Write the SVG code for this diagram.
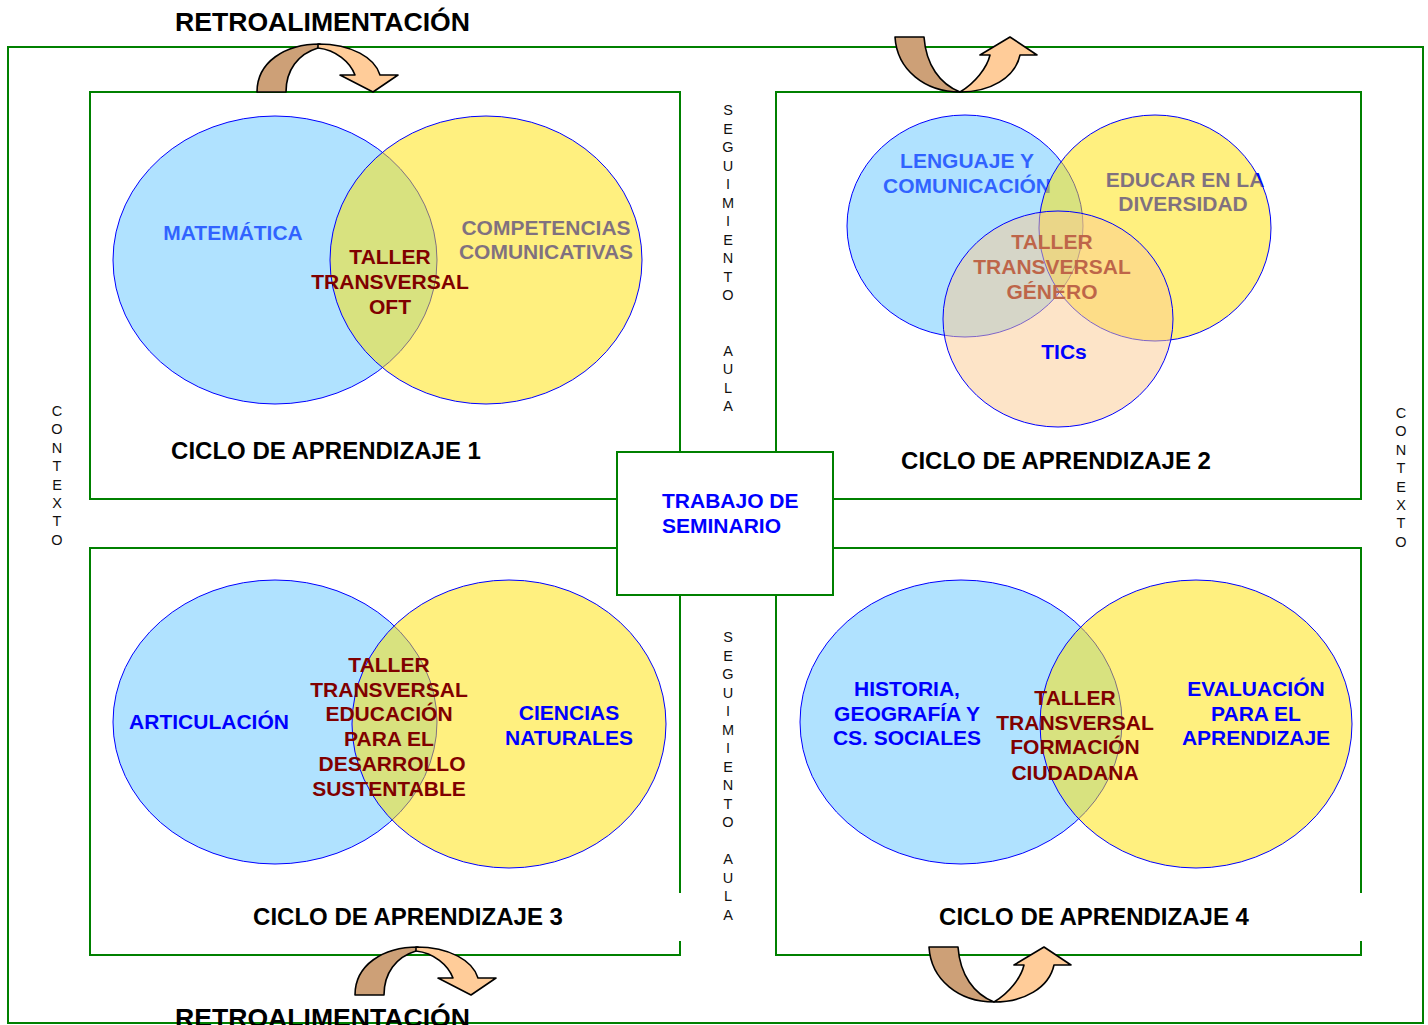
<svg xmlns="http://www.w3.org/2000/svg" width="1428" height="1025" viewBox="0 0 1428 1025">
<style>
.frame{fill:none;stroke:#008000;stroke-width:2}
.cb{fill:#61C5FF;fill-opacity:0.5;stroke:#0000FF;stroke-width:1}
.cy{fill:#FFE100;fill-opacity:0.5;stroke:#0000FF;stroke-width:1}
.cp{fill:#FBC991;fill-opacity:0.5;stroke:#0000FF;stroke-width:1}
text{font-family:"Liberation Sans",Arial,sans-serif}
.lb{font-size:21px;font-weight:bold;fill:#0000FF;text-anchor:middle}
.tl{font-size:21px;font-weight:bold;fill:#800000;text-anchor:middle}
.ciclo{font-size:24px;font-weight:bold;fill:#000;text-anchor:middle}
.retro{font-size:26.6px;font-weight:bold;fill:#000}
.vt{font-size:14.5px;fill:#111;text-anchor:middle}
.brown{fill:#CDA077;stroke:#000;stroke-width:1.6;stroke-linejoin:round}
.peach{fill:#FFCC99;stroke:#000;stroke-width:1.6;stroke-linejoin:round}
</style>
<defs>
<g id="arrowOver">
<path class="brown" d="M257,92 C257,62 285,44 320,44 L318,48 C298,54 286,70 286,92 Z"/>
<path class="peach" d="M318,44 C352,44 375,58 380,75 L398,75 L373,92 L340,75 L355,75 C350,62 336,50 318,48 Z"/>
</g>
<g id="arrowUnder">
<path class="brown" d="M895,37 L924,37 C926,65 940,84 960,92 C925,92 897,70 895,37 Z"/>
<path class="peach" d="M960,92 C990,92 1015,78 1020,55 L1037,55 L1010,37 L980,55 L990,55 C987,68 975,83 960,92 Z"/>
</g>
</defs>
<rect width="1428" height="1025" fill="#fff"/>

<g id="context-frame">
<rect class="frame" x="8" y="47" width="1415" height="976"/>
<text class="vt"><tspan x="57" y="416">C</tspan><tspan x="57" y="434.4">O</tspan><tspan x="57" y="452.8">N</tspan><tspan x="57" y="471.2">T</tspan><tspan x="57" y="489.6">E</tspan><tspan x="57" y="508">X</tspan><tspan x="57" y="526.4">T</tspan><tspan x="57" y="544.8">O</tspan></text>
<text class="vt"><tspan x="1401" y="418">C</tspan><tspan x="1401" y="436.4">O</tspan><tspan x="1401" y="454.8">N</tspan><tspan x="1401" y="473.2">T</tspan><tspan x="1401" y="491.6">E</tspan><tspan x="1401" y="510">X</tspan><tspan x="1401" y="528.4">T</tspan><tspan x="1401" y="546.8">O</tspan></text>
<text class="retro" x="175" y="31">RETROALIMENTACIÓN</text>
<text class="retro" x="175" y="1027">RETROALIMENTACIÓN</text>
</g>

<g id="seguimiento-aula">
<text class="vt"><tspan x="728" y="115">S</tspan><tspan x="728" y="133.5">E</tspan><tspan x="728" y="152">G</tspan><tspan x="728" y="170.5">U</tspan><tspan x="728" y="189">I</tspan><tspan x="728" y="207.5">M</tspan><tspan x="728" y="226">I</tspan><tspan x="728" y="244.5">E</tspan><tspan x="728" y="263">N</tspan><tspan x="728" y="281.5">T</tspan><tspan x="728" y="300">O</tspan><tspan x="728" y="355.5">A</tspan><tspan x="728" y="374">U</tspan><tspan x="728" y="392.5">L</tspan><tspan x="728" y="411">A</tspan></text>
<text class="vt"><tspan x="728" y="642">S</tspan><tspan x="728" y="660.5">E</tspan><tspan x="728" y="679">G</tspan><tspan x="728" y="697.5">U</tspan><tspan x="728" y="716">I</tspan><tspan x="728" y="734.5">M</tspan><tspan x="728" y="753">I</tspan><tspan x="728" y="771.5">E</tspan><tspan x="728" y="790">N</tspan><tspan x="728" y="808.5">T</tspan><tspan x="728" y="827">O</tspan><tspan x="728" y="864">A</tspan><tspan x="728" y="882.5">U</tspan><tspan x="728" y="901">L</tspan><tspan x="728" y="919.5">A</tspan></text>
</g>

<g id="ciclo1">
<rect class="frame" x="90" y="92" width="590" height="407"/>
<text class="lb" x="233" y="240">MATEMÁTICA</text>
<text class="lb"><tspan x="546" y="235">COMPETENCIAS</tspan><tspan x="546" y="259">COMUNICATIVAS</tspan></text>
<ellipse class="cb" cx="275" cy="260" rx="162" ry="144"/>
<ellipse class="cy" cx="486" cy="260" rx="156" ry="144"/>
<text class="tl"><tspan x="390" y="264">TALLER</tspan><tspan x="390" y="289">TRANSVERSAL</tspan><tspan x="390" y="314">OFT</tspan></text>
<text class="ciclo" x="326" y="459">CICLO DE APRENDIZAJE 1</text>
</g>

<g id="ciclo2">
<rect class="frame" x="776" y="92" width="585" height="407"/>
<text class="lb"><tspan x="967" y="168">LENGUAJE Y</tspan><tspan x="967" y="193">COMUNICACIÓN</tspan></text>
<text class="lb"><tspan x="1185" y="187">EDUCAR EN LA</tspan><tspan x="1183" y="211">DIVERSIDAD</tspan></text>
<ellipse class="cb" cx="965" cy="226" rx="118" ry="111"/>
<ellipse class="cy" cx="1155" cy="228" rx="116" ry="113"/>
<text class="tl"><tspan x="1052" y="249">TALLER</tspan><tspan x="1052" y="274">TRANSVERSAL</tspan><tspan x="1052" y="299">GÉNERO</tspan></text>
<ellipse class="cp" cx="1058" cy="319" rx="115" ry="108"/>
<text class="lb" x="1064" y="359">TICs</text>
<text class="ciclo" x="1056" y="469">CICLO DE APRENDIZAJE 2</text>
</g>

<g id="ciclo3">
<path class="frame" d="M680,893 L680,548 L90,548 L90,955 L680,955 L680,941"/>
<ellipse class="cb" cx="275" cy="722" rx="162" ry="142"/>
<ellipse class="cy" cx="509" cy="724" rx="157" ry="144"/>
<text class="lb" x="209" y="729">ARTICULACIÓN</text>
<text class="lb"><tspan x="569" y="720">CIENCIAS</tspan><tspan x="569" y="745">NATURALES</tspan></text>
<text class="tl"><tspan x="389" y="672">TALLER</tspan><tspan x="389" y="697">TRANSVERSAL</tspan><tspan x="389" y="721">EDUCACIÓN</tspan><tspan x="389" y="746">PARA EL</tspan><tspan x="392" y="771">DESARROLLO</tspan><tspan x="389" y="796">SUSTENTABLE</tspan></text>
<text class="ciclo" x="408" y="925">CICLO DE APRENDIZAJE 3</text>
</g>

<g id="ciclo4">
<path class="frame" d="M1361,893 L1361,548 L776,548 L776,955 L1361,955 L1361,941"/>
<ellipse class="cb" cx="961" cy="722" rx="161" ry="142"/>
<ellipse class="cy" cx="1196" cy="724" rx="156" ry="144"/>
<text class="lb"><tspan x="907" y="696">HISTORIA,</tspan><tspan x="907" y="721">GEOGRAFÍA Y</tspan><tspan x="907" y="745">CS. SOCIALES</tspan></text>
<text class="lb"><tspan x="1256" y="696">EVALUACIÓN</tspan><tspan x="1256" y="721">PARA EL</tspan><tspan x="1256" y="745">APRENDIZAJE</tspan></text>
<text class="tl"><tspan x="1075" y="705">TALLER</tspan><tspan x="1075" y="730">TRANSVERSAL</tspan><tspan x="1075" y="754">FORMACIÓN</tspan><tspan x="1075" y="780">CIUDADANA</tspan></text>
<text class="ciclo" x="1094" y="925">CICLO DE APRENDIZAJE 4</text>
</g>

<g id="seminario">
<rect x="617" y="452" width="216" height="143" fill="#fff" stroke="#008000" stroke-width="2"/>
<text style="font-size:21px;font-weight:bold;fill:#0000FF"><tspan x="662" y="508">TRABAJO DE</tspan><tspan x="662" y="533">SEMINARIO</tspan></text>
</g>

<g id="connectors">
<use href="#arrowOver"/>
<use href="#arrowOver" transform="translate(98,903)"/>
<use href="#arrowUnder"/>
<use href="#arrowUnder" transform="translate(34,910)"/>
</g>
</svg>
